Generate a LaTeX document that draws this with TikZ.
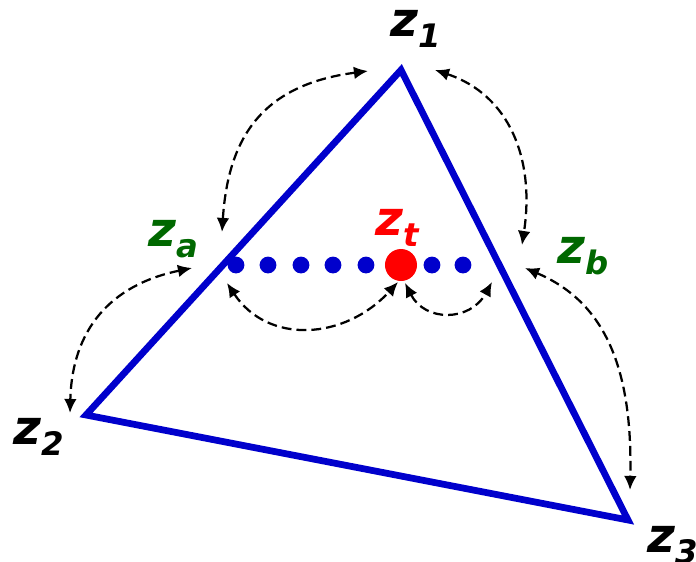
\documentclass[tikz,border=0pt]{standalone}
\usepackage{fontspec}
\setmainfont{DejaVu Sans}
\usetikzlibrary{arrows.meta}

\definecolor{triblue}{RGB}{0,0,204}
\definecolor{labgreen}{RGB}{0,104,0}

\newcommand{\zlab}[1]{z\raisebox{-4pt}{\fontsize{11.5}{12}\selectfont #1}}

\begin{document}
\begin{tikzpicture}[
    x=0.0125cm, y=-0.0125cm,
    edge/.style={draw=triblue, line width=2.4pt},
    dot/.style={circle, fill=triblue, inner sep=0pt, minimum size=0.21cm},
    hit/.style={circle, fill=red, inner sep=0pt, minimum size=0.4cm},
    lab/.style={inner sep=0pt, anchor=base west, font=\fontsize{17}{20}\selectfont\bfseries\itshape},
    link/.style={{Latex[length=5pt,width=4.5pt]}-{Latex[length=5pt,width=4.5pt]}, line width=0.8pt, dash pattern=on 3.5pt off 1.8pt}
]
\useasboundingbox (0,0) rectangle (696,562);

% Triangle corners
\coordinate (z1) at (401,70);
\coordinate (z2) at (86,415);
\coordinate (z3) at (628,520);
\draw[edge] (z1) -- (z2) -- (z3) -- cycle;

% Corner labels
\node[lab] (lz1) at (390,36) {\zlab{1}};
\node[lab] (lz2) at (13,444) {\zlab{2}};
\node[lab] (lz3) at (647,552) {\zlab{3}};

% Points on the edges
\node[lab, text=labgreen] (lza) at (148,246) {\zlab{a}};
\node[lab, text=labgreen] (lzb) at (557,263) {\zlab{b}};

% Dots between za and zb
\foreach \x [count=\i] in {236,268,301,333,366,432,463}
    \node[dot] (d\i) at (\x,265) {};
\node[hit] (zt) at (401,265) {};
\node[lab, text=red] (lzt) at (375,235) {\zlab{t}};

% Arrow ends
\coordinate (p1) at (368,71);
\coordinate (p2) at (222,232);
\coordinate (p3) at (435,70);
\coordinate (p4) at (522,245);
\coordinate (p5) at (192,268);
\coordinate (p6) at (70,413);
\coordinate (p7) at (525,268);
\coordinate (p8) at (630,490);
\coordinate (p9) at (227,283);
\coordinate (p10) at (398,282);
\coordinate (p11) at (405,283);
\coordinate (p12) at (492,282);

% Dashed links
\draw[link] (p1) .. controls (260,85) and (228,140) .. (p2);
\draw[link] (p3) .. controls (510,95) and (535,160) .. (p4);
\draw[link] (p5) .. controls (110,285) and (72,330) .. (p6);
\draw[link] (p7) .. controls (600,300) and (633,360) .. (p8);
\draw[link] (p9) .. controls (268,345) and (345,340) .. (p10);
\draw[link] (p11) .. controls (425,322) and (470,322) .. (p12);

\end{tikzpicture}
\end{document}
